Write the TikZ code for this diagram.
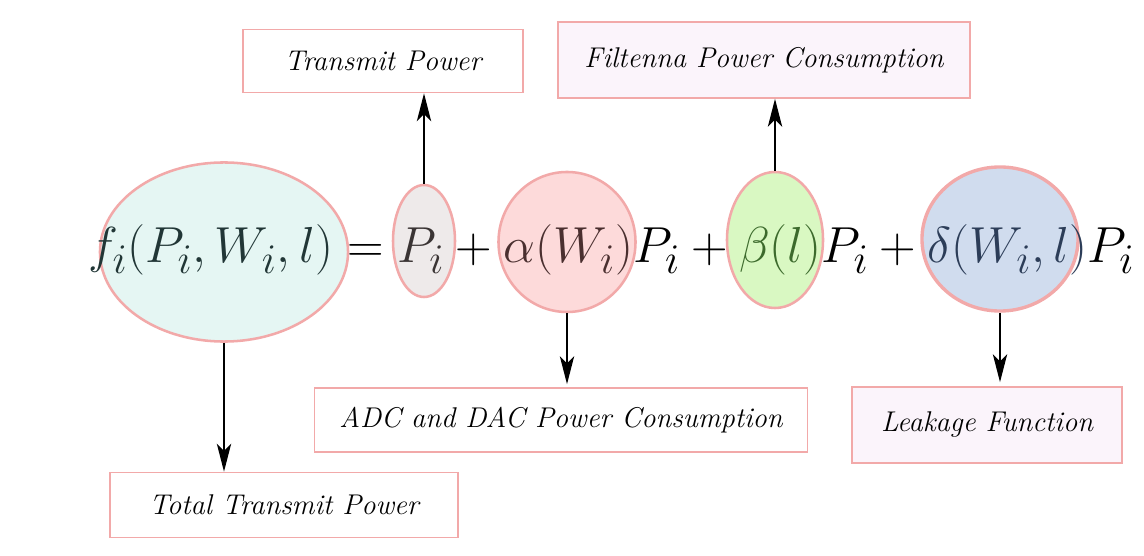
\documentclass[tikz,border=0pt]{standalone}
\usepackage{graphicx}
\usetikzlibrary{shapes.geometric,arrows.meta,calc}
\definecolor{cedge}{HTML}{f2a9a9}
\definecolor{cboxfill}{HTML}{fbf4fb}
\definecolor{ccyan}{HTML}{e5f6f3}
\definecolor{cgrey}{HTML}{eeeaea}
\definecolor{cpink}{HTML}{fddada}
\definecolor{cgreen}{HTML}{d9f8c2}
\definecolor{cblue}{HTML}{d0dcee}

\begin{document}
\begin{tikzpicture}[x=0.025cm, y=-0.025cm, every node/.style={inner sep=0pt},
    box/.style={draw=cedge, line width=1.2pt, minimum height=1.6cm, font=\fontsize{20.3}{24}\selectfont\itshape},
    blob/.style={ellipse, draw=cedge, line width=1.8pt},
    arr/.style={-{Stealth[length=0.7cm, width=0.36cm, inset=0.18cm]}, line width=1pt}]
    \useasboundingbox (0,0) rectangle (1144,556);
    % ellipses behind the formula
    \node[blob, fill=ccyan, minimum width=6.2cm, minimum height=4.475cm] (ef) at (224,252) {};
    \node[blob, fill=cgrey, minimum width=1.55cm, minimum height=2.8cm] (ep) at (424,241) {};
    \node[blob, fill=cpink, minimum width=3.425cm, minimum height=3.5cm] (ea) at (567,242) {};
    \node[blob, fill=cgreen, minimum width=2.4cm, minimum height=3.4cm] (eb) at (775,240) {};
    \node[blob, fill=cblue, line width=2.4pt, minimum width=3.9cm, minimum height=3.6cm] (ed) at (1000,239) {};
    \node[anchor=base west, font=\Huge] (eq) at (88,263)
      {\scalebox{1.447}{$\color[HTML]{213636}f_i(P_i,W_i,l)\color{black}=\color[HTML]{3a3434}P_i\color{black}+\color[HTML]{4a2f2f}\alpha(W_i)\color{black}P_i+\color[HTML]{3c6a2c}\beta(l)\color{black}P_i+\color[HTML]{2c3d58}\delta(W_i,l)\color{black}P_i$}};
    % labels
    \node[box, minimum width=7cm, minimum height=1.575cm] (tp) at (383,61) {Transmit Power};
    \node[box, fill=cboxfill, minimum width=10.3cm, minimum height=1.9cm] (fpc) at (764,60) {Filtenna Power Consumption};
    \node[box, minimum width=12.325cm] (adc) at (561,420) {ADC and DAC Power Consumption};
    \node[box, fill=cboxfill, minimum width=6.75cm, minimum height=1.9cm] (leak) at (987,425) {Leakage Function};
    \node[box, minimum width=8.7cm, minimum height=1.625cm] (ttp) at (284,505) {Total Transmit Power};
    \draw[arr] (ef.south) -- (ef.south |- ttp.north);
    \draw[arr] (ep.north) -- (ep.north |- tp.south);
    \draw[arr] (ea.south) -- ($(ea.south |- adc.north)+(0,-3)$);
    \draw[arr] (eb.north) -- (eb.north |- fpc.south);
    \draw[arr] (ed.south) -- ($(ed.south |- leak.north)+(0,-4)$);
\end{tikzpicture}
\end{document}
